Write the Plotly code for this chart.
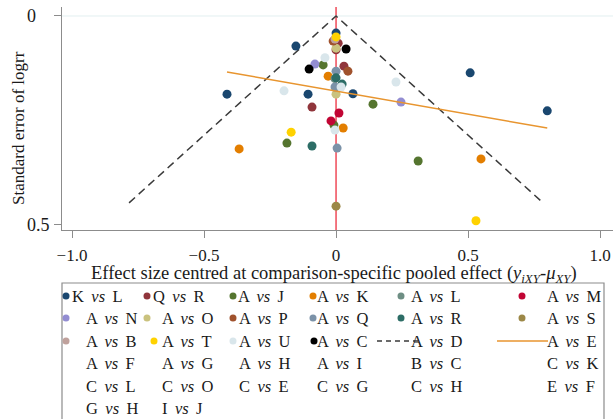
import plotly.graph_objects as go

# ---------------- data ----------------
SP = " \u2009"  # slightly wider word gap, as in the reference legend
series_names = ["K vs L", "Q vs R", "A vs J", "A vs K", "A vs L", "A vs M",
                "A vs N", "A vs O", "A vs P", "A vs Q", "A vs R", "A vs S",
                "A vs B", "A vs T", "A vs U", "A vs C"]
series_colors = ["#1a476f", "#90353b", "#55752f", "#e37e00", "#6e8e84", "#c10534",
                 "#938dd2", "#cac27e", "#a0522d", "#7b92a8", "#2d6d66", "#9c8847",
                 "#bfa19c", "#ffd200", "#d9e6eb", "#000000"]

KL_x = [-0.152, 0.0, -0.413, -0.106, 0.064, 0.508, 0.80]
KL_y = [0.072, 0.041, 0.187, 0.187, 0.186, 0.136, 0.227]
QR_x = [-0.091, 0.030, 0.008, 0.0]
QR_y = [0.218, 0.120, 0.065, 0.081]
AJ_x = [-0.186, -0.049, 0.140, -0.008, 0.311]
AJ_y = [0.304, 0.117, 0.211, 0.261, 0.347]
AK_x = [-0.367, -0.030, 0.027, 0.549]
AK_y = [0.318, 0.144, 0.268, 0.342]
AL_x = [-0.004]
AL_y = [0.150]
AM_x = [0.011, -0.019]
AM_y = [0.232, 0.251]
AN_x = [-0.080, 0.246]
AN_y = [0.115, 0.206]
AO_x = [0.0, 0.0]
AO_y = [0.077, 0.187]
AP_x = [-0.011, 0.045]
AP_y = [0.060, 0.132]
AQ_x = [0.0, -0.004, 0.004]
AQ_y = [0.132, 0.170, 0.316]
AR_x = [-0.091, 0.0, 0.023]
AR_y = [0.311, 0.148, 0.163]
AS_x = [0.0]
AS_y = [0.455]
AB_x = [-0.004]
AB_y = [0.055]
AT_x = [-0.170, 0.0, 0.530]
AT_y = [0.278, 0.050, 0.490]
AU_x = [-0.197, -0.042, 0.227, 0.019, -0.004]
AU_y = [0.179, 0.100, 0.158, 0.170, 0.273]
AC_x = [-0.102, 0.038]
AC_y = [0.127, 0.079]

series_x = [KL_x, QR_x, AJ_x, AK_x, AL_x, AM_x, AN_x, AO_x, AP_x, AQ_x, AR_x, AS_x, AB_x, AT_x, AU_x, AC_x]
series_y = [KL_y, QR_y, AJ_y, AK_y, AL_y, AM_y, AN_y, AO_y, AP_y, AQ_y, AR_y, AS_y, AB_y, AT_y, AU_y, AC_y]

# pseudo confidence funnel
funnel_x = [-0.784, 0.0, 0.784]
funnel_y = [0.447, 0.0, 0.447]
# fitted regression line
reg_x = [-0.413, 0.80]
reg_y = [0.134, 0.268]

x_ticks = [-1.0, -0.5, 0.0, 0.5, 1.0]
x_ticktext = ["\u22121.0", "\u22120.5", "0", "0.5", "1.0"]
y_ticks = [0.0, 0.5]
y_ticktext = ["0", "0.5"]

legend_rows = [
    ["K vs L", "Q vs R", "A vs J", "A vs K", "A vs L", "A vs M"],
    ["A vs N", "A vs O", "A vs P", "A vs Q", "A vs R", "A vs S"],
    ["A vs B", "A vs T", "A vs U", "A vs C", "A vs D", "A vs E"],
    ["A vs F", "A vs G", "A vs H", "A vs I", "B vs C", "C vs K"],
    ["C vs L", "C vs O", "C vs E", "C vs G", "C vs H", "E vs F"],
    ["G vs H", "I vs J"],
]


def fmt(lab):
    a, _, b = lab.split(" ")
    return a + SP + "<i>vs</i>" + SP + b


# ---------------- figure ----------------
W, H = 614, 419
L, R, T, B = 62, 1, 7, 189
PW, PH = W - L - R, H - T - B
FONT = "Liberation Serif, Times New Roman, serif"
TXT = "#1a1a1a"


def px(xp):
    return (xp - L) / PW


def py(yp):
    return (T + PH - yp) / PH


fig = go.Figure()

fig.add_shape(type="line", xref="x", yref="paper", x0=0, x1=0, y0=0, y1=1,
              line=dict(color="#ef4a58", width=1.5), layer="below")
fig.add_shape(type="line", xref="paper", yref="y", x0=0, x1=1, y0=0, y1=0,
              line=dict(color="#e2eff0", width=1), layer="below")

fig.add_trace(go.Scatter(x=funnel_x, y=funnel_y, mode="lines",
                         line=dict(color="#3a3a3a", width=1.5, dash="8px,5px"),
                         showlegend=False, hoverinfo="skip"))

for name, color, xs, ys in zip(series_names, series_colors, series_x, series_y):
    fig.add_trace(go.Scatter(x=xs, y=ys, mode="markers", name=name,
                             marker=dict(color=color, size=9, line=dict(width=0)),
                             showlegend=False))

fig.add_trace(go.Scatter(x=reg_x, y=reg_y, mode="lines",
                         line=dict(color="#e8952f", width=1.5),
                         showlegend=False, hoverinfo="skip"))

# ---------------- custom legend ----------------
row_y = [296, 318, 341, 363, 386, 408]
text_x = [[70, 151, 236, 315, 409, 545]] + [[84, 160, 237, 315, 409, 545]] * 5
marker_x = [[66, 147, 233, 313, 401, 522],
            [66, 147, 233, 313, 401, 522],
            [66, 154, 233, 314, None, None]]

shapes = list(fig.layout.shapes)
shapes.append(dict(type="rect", xref="paper", yref="paper",
                   x0=px(62), x1=px(604), y0=py(440), y1=py(283),
                   line=dict(color="#8c8c8c", width=1.2), fillcolor="rgba(0,0,0,0)"))
annotations = []
for r, row in enumerate(legend_rows):
    for c, lab in enumerate(row):
        annotations.append(dict(text=fmt(lab), xref="paper", yref="paper",
                                x=px(text_x[r][c]), y=py(row_y[r]), xanchor="left", yanchor="middle",
                                showarrow=False, font=dict(family=FONT, size=16.5, color=TXT)))
for r in range(3):
    for c in range(6):
        mx = marker_x[r][c]
        if mx is None:
            continue
        shapes.append(dict(type="circle", xref="paper", yref="paper",
                           xsizemode="pixel", ysizemode="pixel",
                           xanchor=px(mx), yanchor=py(row_y[r]),
                           x0=-3.5, x1=3.5, y0=-3.5, y1=3.5,
                           fillcolor=series_colors[r * 6 + c], line=dict(width=0)))
shapes.append(dict(type="line", xref="paper", yref="paper",
                   x0=px(377), x1=px(421), y0=py(341), y1=py(341),
                   line=dict(color="#3a3a3a", width=1.5, dash="5px,4px")))
shapes.append(dict(type="line", xref="paper", yref="paper",
                   x0=px(497), x1=px(548), y0=py(341), y1=py(341),
                   line=dict(color="#e8952f", width=1.5)))

# axis titles and y tick labels
annotations.append(dict(text="Effect size centred at comparison-specific pooled effect (<i>y<sub>iXY</sub></i>-<i>\u03bc<sub>XY</sub></i>)",
                        xref="paper", yref="paper", x=px(334), y=py(274), xanchor="center", yanchor="middle",
                        showarrow=False, font=dict(family=FONT, size=18.5, color=TXT)))
annotations.append(dict(text="Standard error of logrr", textangle=-90,
                        xref="paper", yref="paper", x=px(18), y=py(128), xanchor="center", yanchor="middle",
                        showarrow=False, font=dict(family=FONT, size=17, color=TXT)))
for v, t in zip(y_ticks, y_ticktext):
    annotations.append(dict(text=t, xref="paper", yref="y", x=px(25), y=v, xanchor="left", yanchor="middle",
                            showarrow=False, font=dict(family=FONT, size=18, color=TXT)))

fig.update_layout(
    width=W, height=H,
    margin=dict(l=L, r=R, t=T, b=B),
    paper_bgcolor="white", plot_bgcolor="white",
    font=dict(family=FONT, size=17, color=TXT),
    showlegend=False,
    shapes=shapes,
    annotations=annotations,
    xaxis=dict(range=[-1.038, 1.049], tickvals=x_ticks, ticktext=x_ticktext,
               showgrid=False, zeroline=False, showline=True, linecolor="#8c8c8c", linewidth=1.2,
               ticks="outside", ticklen=7, tickcolor="#8c8c8c", automargin=False,
               ticklabelstandoff=2, tickfont=dict(family=FONT, size=17, color=TXT)),
    yaxis=dict(range=[0.512, -0.0215], tickvals=y_ticks, showticklabels=False,
               showgrid=False, zeroline=False, showline=True, linecolor="#8c8c8c", linewidth=1.2,
               ticks="outside", ticklen=7, tickcolor="#8c8c8c", automargin=False),
)

fig.write_html("out.html", config={"displayModeBar": False},
               post_script="document.body.style.margin='0';document.body.style.overflow='hidden';")
